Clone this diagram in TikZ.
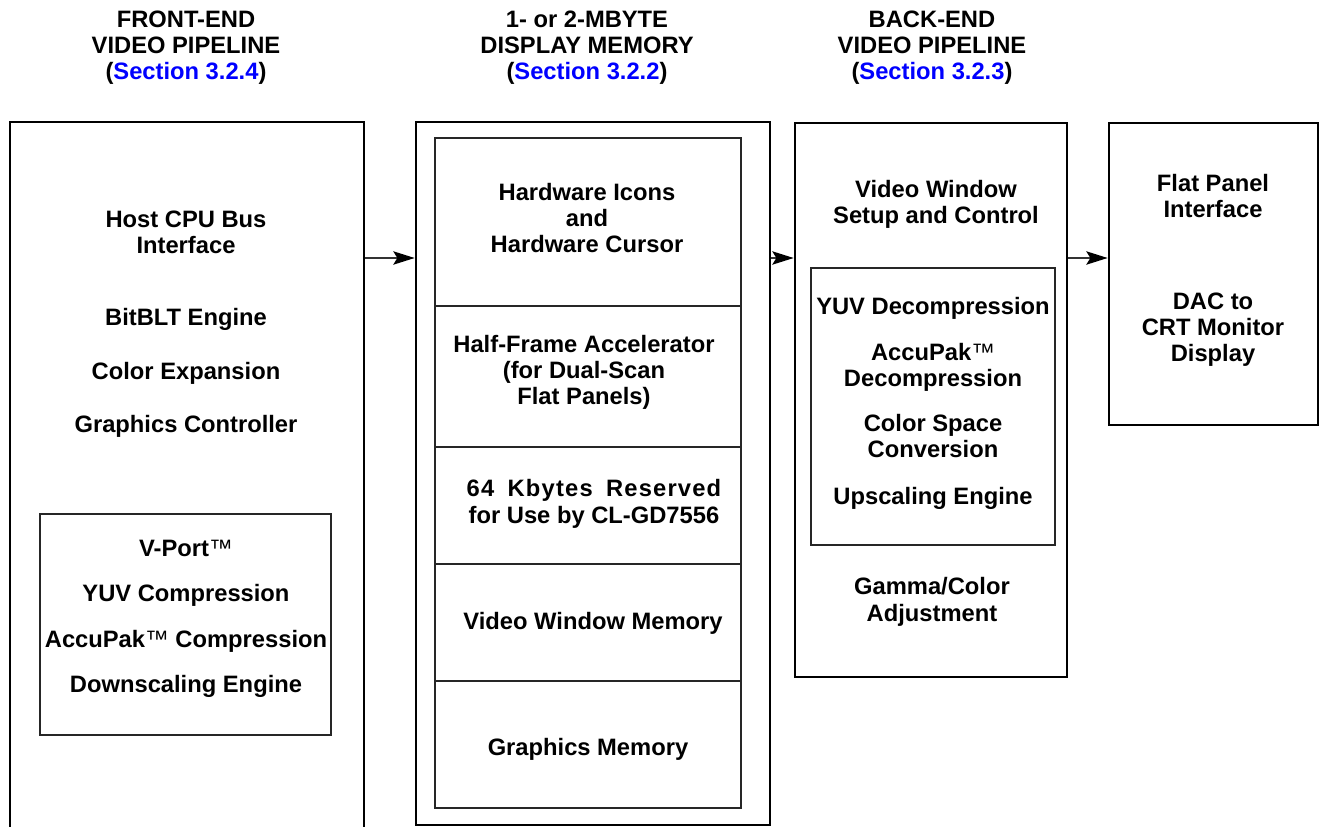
\documentclass[tikz,border=0pt]{standalone}
\usepackage{fontspec}
\setmainfont{Liberation Sans}
\usetikzlibrary{arrows.meta,fit}
% light trademark sign next to bold product names
\newcommand\tmk{{\mdseries\char"2122}}
\newlength\reservedw
\begin{document}
\begin{tikzpicture}[x=0.75pt,y=-0.75pt,
  every node/.style={font=\fontsize{17.8pt}{19.75pt}\selectfont\bfseries,
                     inner sep=0pt, align=center},
  % multi-line labels are placed by the baseline of their last line
  txt/.style={anchor=base},
  outerbox/.style={draw=black, line width=2pt, inner sep=0pt},
  innerbox/.style={draw=black!85, line width=0.8pt, inner sep=0pt},
  rule/.style={draw=black!85, line width=0.8pt},
  arr/.style={draw=black!80, line width=1.2pt,
              -{Stealth[length=16pt,width=10pt,inset=3pt,color=black]}}]
\clip (0,0) rectangle (1322,827);

% column headings
\node[txt] (fehdr) at (186,80) {FRONT-END\\VIDEO PIPELINE\\(\textcolor{blue}{Section 3.2.4})};
\node[txt] (memhdr) at (587,80) {1- or 2-MBYTE\\DISPLAY MEMORY\\(\textcolor{blue}{Section 3.2.2})};
\node[txt] (behdr) at (932,80) {BACK-END\\VIDEO PIPELINE\\(\textcolor{blue}{Section 3.2.3})};

% front-end pipeline (runs off the bottom edge)
\node[outerbox, fit={(10,122)(364,880)}] (front) {};
\node[innerbox, fit={(40,514)(331,735)}] (fein) {};
\node[txt] (host) at (186,254) {Host CPU Bus\\Interface};
\node[txt] (bitblt) at (186,326) {BitBLT Engine};
\node[txt] (colexp) at (186,380) {Color Expansion};
\node[txt] (gfxctl) at (186,433) {Graphics Controller};
\node[txt] (vport) at (186,556) {V-Port\tmk};
\node[txt] (yuvc) at (186,601) {YUV Compression};
\node[txt] (accuc) at (186,647) {AccuPak\tmk{} Compression};
\node[txt] (downs) at (186,692) {Downscaling Engine};

% display memory
\node[outerbox, fit={(416,122)(770,825)}] (mem) {};
\node[innerbox, fit={(435,138)(741,808)}] (memin) {};
\foreach \yy in {306,447,564,681}
  \draw[rule] (memin.west |- 0,\yy) -- (memin.east |- 0,\yy);
\node[txt] (icons) at (587,253) {Hardware Icons\\and\\Hardware Cursor};
\node[txt] (halfframe) at (584,405) {Half-Frame Accelerator\\(for Dual-Scan\\Flat Panels)};
\node[txt] (reserved) at (594,523) {\settowidth\reservedw{for Use by CL-GD7556}%
  \makebox[\dimexpr\reservedw+3pt\relax][s]{\addfontfeature{LetterSpace=5}64 Kbytes Reserved}\\for Use by CL-GD7556};
\node[txt] (vwmem) at (593,629) {Video Window Memory};
\node[txt] (gfxmem) at (588,755) {Graphics Memory};

% back-end pipeline
\node[outerbox, fit={(795,123)(1067,677)}] (back) {};
\node[innerbox, fit={(811,268)(1055,545)}] (backin) {};
\node[txt] (vwsetup) at (936,224) {Video Window\\Setup and Control};
\node[txt] (yuvd) at (933,315) {YUV Decompression};
\node[txt] (accud) at (933,387) {AccuPak\tmk\\Decompression};
\node[txt] (csc) at (933,458) {Color Space\\Conversion};
\node[txt] (upscale) at (933,504) {Upscaling Engine};
\node[txt] (gamma) at (932,621) {Gamma/Color\\Adjustment};

% display outputs
\node[outerbox, fit={(1109,123)(1318,425)}] (panel) {};
\node[txt] (fpif) at (1213,218) {Flat Panel\\Interface};
\node[txt] (dac) at (1213,362) {DAC to\\CRT Monitor\\Display};

% data flow
\coordinate (flow) at (0,258);
\draw[arr] (front.east |- flow) -- (mem.west |- flow);
\draw[arr] (mem.east |- flow) -- (back.west |- flow);
\draw[arr] (back.east |- flow) -- (panel.west |- flow);
\end{tikzpicture}
\end{document}
